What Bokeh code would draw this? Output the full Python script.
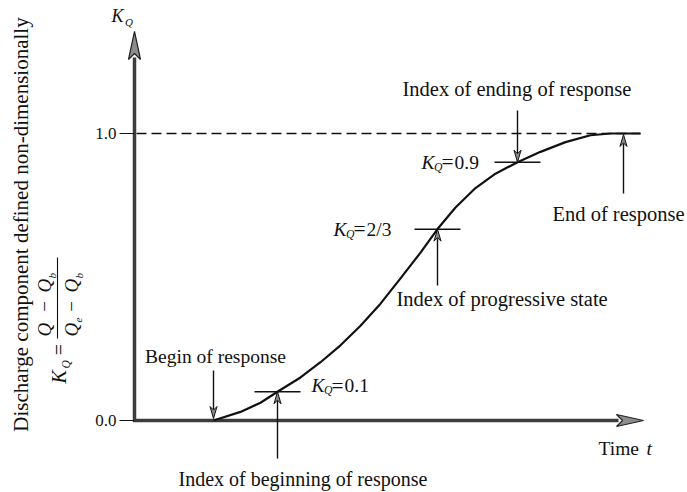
import math
from bokeh.plotting import figure
from bokeh.models import Range1d
from bokeh.core.properties import value
from bokeh.embed import file_html
from bokeh.resources import INLINE

# Response curve: time (arbitrary units) against the non-dimensional discharge K_Q
time_t = [213, 240, 260, 277, 300, 320, 340, 360, 380, 400, 420, 437, 455, 475, 495, 517, 540, 565, 590, 610, 640]
k_q = [0.0, 0.03, 0.062, 0.1, 0.15, 0.203, 0.262, 0.33, 0.407, 0.495, 0.585, 0.667, 0.742, 0.81, 0.86, 0.9,
       0.936, 0.97, 0.994, 1.0, 1.0]

# Characteristic indices on the curve
index_t = [277, 437, 517]
index_k = [0.1, 2 / 3, 0.9]
index_text = ["0.1", "2/3", "0.9"]
begin_t = 213
end_t = 623

# Vertical axis ticks
tick_k = [0.0, 1.0]
tick_text = ["0.0", "1.0"]

W, H = 687, 492
ORIGIN_X = 134      # time coordinate of the vertical axis
BASE_PX = 420       # pixel row of K_Q = 0
UNIT_PX = 287       # pixels per unit of K_Q


def k_of(py):
    return (BASE_PX - py) / UNIT_PX


def dk(px):
    return px / UNIT_PX


SERIF = value("Liberation Serif")

p = figure(width=W, height=H, x_range=Range1d(0, W), y_range=Range1d(k_of(H), k_of(0)),
           output_backend="svg", toolbar_location=None,
           x_axis_location=None, y_axis_location=None, min_border=0)
p.grid.visible = False
p.outline_line_color = None
p.background_fill_color = "white"
p.border_fill_color = "white"


def label(x, k, s, size=19, align="left", style="normal", angle=0.0, baseline="middle"):
    p.text(x=[x], y=[k], text=[s], text_font=SERIF, text_font_size=f"{size}px",
           text_align=align, text_baseline=baseline, text_font_style=style,
           angle=angle, text_color="#111111")


def v_arrow(x, k_from, k_to, head_len=12, head_w=7, width=1.4, fill="#8a8a8a"):
    s = 1 if k_to > k_from else -1
    base = k_to - s * dk(head_len)
    p.segment(x0=[x], y0=[k_from], x1=[x], y1=[base + s * dk(3)], line_color="#111111", line_width=width)
    p.patch(x=[x - head_w / 2, x, x + head_w / 2, x],
            y=[base, k_to, base, base + s * dk(head_len * 0.3)],
            fill_color=fill, line_color="#111111", line_width=1)


def kq_label(x, k, rest, size=19.5):
    label(x, k, "K", size, style="italic")
    label(x + 12.5, k - dk(5), "Q", size * 0.6, style="italic")
    label(x + 20, k, "=", size * 1.1)
    label(x + 33, k, rest, size)


# --- axes with arrowheads ---
AX_COLOR = "#3c3c3c"
y_tip, y_head = k_of(31), 28
x_tip, x_head = 643, 27
p.segment(x0=[ORIGIN_X], y0=[-dk(1.5)], x1=[ORIGIN_X], y1=[y_tip - dk(y_head - 2)],
          line_color=AX_COLOR, line_width=3.5)
p.patch(x=[ORIGIN_X - 6, ORIGIN_X, ORIGIN_X + 6, ORIGIN_X],
        y=[y_tip - dk(y_head), y_tip, y_tip - dk(y_head), y_tip - dk(y_head - 6)],
        fill_color="#8c8c8c", line_color="#222222", line_width=1.2)
p.segment(x0=[ORIGIN_X - 1.5], y0=[0], x1=[x_tip - x_head + 2], y1=[0],
          line_color=AX_COLOR, line_width=3.5)
p.patch(x=[x_tip - x_head, x_tip, x_tip - x_head, x_tip - x_head + 6],
        y=[dk(6), 0, -dk(6), 0],
        fill_color="#8c8c8c", line_color="#222222", line_width=1.2)

# tick dashes and tick labels
p.segment(x0=[119] * len(tick_k), y0=tick_k, x1=[ORIGIN_X] * len(tick_k), y1=tick_k,
          line_color="#111111", line_width=1.2)
p.text(x=[116] * len(tick_k), y=tick_k, text=tick_text, text_font=SERIF, text_font_size="17px",
       text_align="right", text_baseline="middle", text_color="#111111")

# axis titles
label(111, k_of(15), "K", 18, style="italic")
label(124.5, k_of(21), "Q", 11, style="italic")
label(598, k_of(448), "Time", 19.5)
label(646, k_of(448), "t", 19.5, style="italic")

# vertical description and the defining formula
UP = math.pi / 2
label(20, k_of(224), "Discharge component defined non-dimensionally", 21, align="center", angle=UP)
label(58, k_of(383), "K", 20, style="italic", angle=UP)
label(65.5, k_of(368), "Q", 11.5, style="italic", angle=UP)
label(58, k_of(349), "=", 20, align="center", angle=UP)
p.segment(x0=[57], y0=[k_of(338)], x1=[57], y1=[k_of(257)], line_color="#111111", line_width=1.1)
# numerator
label(44, k_of(336), "Q", 19, style="italic", angle=UP)
label(44, k_of(306), "\u2212", 19, align="center", angle=UP)
label(44, k_of(292), "Q", 19, style="italic", angle=UP)
label(51, k_of(278), "b", 11, style="italic", angle=UP)
# denominator
label(71, k_of(336), "Q", 19, style="italic", angle=UP)
label(78, k_of(322), "e", 11, style="italic", angle=UP)
label(71, k_of(306), "\u2212", 19, align="center", angle=UP)
label(71, k_of(292), "Q", 19, style="italic", angle=UP)
label(78, k_of(278), "b", 11, style="italic", angle=UP)

# full-response guide
p.line(x=[ORIGIN_X + 2, time_t[-1]], y=[1.0, 1.0], line_color="#111111", line_width=1.3, line_dash="10 5")

# response curve
p.line(x=time_t, y=k_q, line_color="#111111", line_width=2.2, line_join="round")

# index bars through the curve
p.segment(x0=[t - 23 for t in index_t], y0=index_k, x1=[t + 23 for t in index_t], y1=index_k,
          line_color="#111111", line_width=1.5)

# annotations
label(215, k_of(356), "Begin of response", 19.5, align="center")
v_arrow(begin_t, k_of(370), dk(2))

v_arrow(index_t[0], k_of(458), index_k[0])
kq_label(311, index_k[0] + dk(6), index_text[0])
label(178, k_of(478), "Index of beginning of response", 20)

v_arrow(index_t[1], k_of(285), index_k[1])
kq_label(333, index_k[1], index_text[1])
label(396, k_of(298), "Index of progressive state", 20.5)

v_arrow(index_t[2], k_of(110), index_k[2])
kq_label(421, index_k[2], index_text[2])
label(402, k_of(88), "Index of ending of response", 20.5)

v_arrow(end_t, k_of(193), 1.0 - dk(1))
label(552, k_of(213), "End of response", 20.5)

open("out.html", "w").write(file_html(p, INLINE))
